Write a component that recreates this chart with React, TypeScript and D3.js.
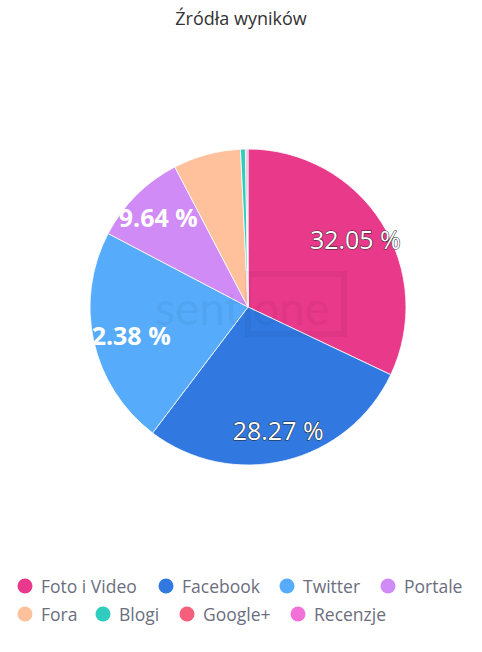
import React from "react";
import * as d3 from "d3";

const categories = ["Foto i Video", "Facebook", "Twitter", "Portale", "Fora", "Blogi", "Google+", "Recenzje"];
const values = [32.05, 28.27, 22.38, 9.64, 6.9, 0.5, 0.15, 0.11];
const colors = ["#e8398a", "#3179e1", "#56acfb", "#d08bf6", "#fec19c", "#2ecdbd", "#f55f7c", "#f470d9"];
const labelFlags = [true, true, true, true, false, false, false, false];

const W = 482, H = 652;
const cx = 248, cy = 307, R = 158;

export default function App() {
  const pie = d3.pie<number>().sort(null).value((d) => d)(values);
  const arc = d3.arc<d3.PieArcDatum<number>>().innerRadius(0).outerRadius(R);
  const labelArc = d3.arc<d3.PieArcDatum<number>>().innerRadius(127).outerRadius(127);

  const legendRows = [
    [0, 1, 2, 3],
    [4, 5, 6, 7],
  ];
  const legendX = [
    [25, 166, 287, 388],
    [25, 103, 187, 298],
  ];
  const legendY = [586, 614];

  return (
    <svg width={W} height={H} style={{ position: "absolute", left: 0, top: 0, fontFamily: "'Open Sans', sans-serif" }}>
      <rect width={W} height={H} fill="#fff" />
      <text x={241} y={25} textAnchor="middle" fontSize={18} fill="#333">Źródła wyników</text>
      <defs>
        <clipPath id="pieClip">
          <rect x={cx - R} y={cy - R} width={2 * R} height={2 * R} />
        </clipPath>
      </defs>
      <g transform={`translate(${cx},${cy})`}>
        {pie.map((p, i) => (
          <path key={i} d={arc(p) || ""} fill={colors[i]} stroke="#fff" strokeWidth={0.8} />
        ))}
      </g>
      <g opacity={0.04} fill="#000">
        <text x={cx - 6} y={cy + 18} textAnchor="middle" fontSize={46} fontFamily="Lato, sans-serif">sentione</text>
        <rect x={cx} y={cy - 33} width={96} height={60} fill="none" stroke="#000" strokeWidth={6} />
      </g>
      <g clipPath="url(#pieClip)">
        {pie.map((p, i) => {
          if (!labelFlags[i]) return null;
          const [lx, ly] = labelArc.centroid(p);
          const bold = i >= 2;
          return (
            <text
              key={i}
              x={cx + lx}
              y={cy + ly}
              textAnchor="middle"
              dominantBaseline="central"
              fontSize={25}
              fontWeight={bold ? 700 : 400}
              fill="#fff"
              stroke={bold ? "none" : "#222"}
              strokeWidth={bold ? 0 : 1}
              paintOrder="stroke"
            >
              {values[i].toFixed(2)} %
            </text>
          );
        })}
      </g>
      {legendRows.map((row, r) =>
        row.map((idx, j) => (
          <g key={idx} transform={`translate(${legendX[r][j]},${legendY[r]})`}>
            <circle cx={0} cy={0} r={7.5} fill={colors[idx]} />
            <text x={16} y={0} dominantBaseline="central" fontSize={17.5} fill="#6b6e7e">{categories[idx]}</text>
          </g>
        ))
      )}
    </svg>
  );
}
